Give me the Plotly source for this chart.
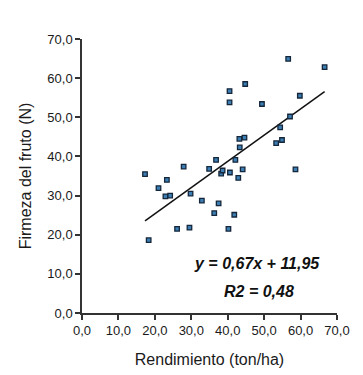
import plotly.graph_objects as go

rendimiento = [17.3, 18.3, 21.0, 22.9, 23.3, 24.2, 26.1, 27.9, 29.5, 29.8,
               32.9, 34.9, 36.3, 36.8, 37.5, 38.2, 38.6, 40.2, 40.5, 40.5,
               40.6, 41.8, 42.1, 42.9, 43.2, 43.3, 44.1, 44.6, 44.8, 49.4,
               53.3, 54.4, 54.9, 56.6, 57.1, 58.6, 59.8, 66.6]
firmeza = [35.5, 18.6, 31.9, 29.8, 34.0, 30.0, 21.5, 37.4, 21.8, 30.5,
           28.7, 36.8, 25.5, 39.1, 28.0, 35.6, 36.4, 21.5, 56.7, 53.8,
           35.9, 25.1, 39.1, 34.5, 44.5, 42.3, 36.7, 44.8, 58.5, 53.4,
           43.4, 47.4, 44.2, 64.9, 50.2, 36.7, 55.5, 62.8]
slope = 0.67
intercept = 11.95
r2 = 0.48
tick_vals = [0, 10, 20, 30, 40, 50, 60, 70]

x_line = [min(rendimiento), max(rendimiento)]
y_line = [slope * v + intercept for v in x_line]

fig = go.Figure()
fig.add_trace(go.Scatter(x=x_line, y=y_line, mode="lines",
                         line=dict(color="#111111", width=1.5),
                         showlegend=False, hoverinfo="skip"))
fig.add_trace(go.Scatter(x=rendimiento, y=firmeza, mode="markers",
                         marker=dict(symbol="square", size=4.5, color="#3b7fb4",
                                     line=dict(color="#15263a", width=1.3)),
                         showlegend=False))

eq_text = f"y = {slope:.2f}x + {intercept:.2f}".replace(".", ",")
r2_text = f"R2 = {r2:.2f}".replace(".", ",")
fig.add_annotation(x=48.0, y=12.6, xref="x", yref="y", text=f"<b><i>{eq_text}</i></b>",
                   showarrow=False, font=dict(size=16, color="#111111", family="Liberation Sans, Arial"))
fig.add_annotation(x=48.6, y=5.4, xref="x", yref="y", text=f"<b><i>{r2_text}</i></b>",
                   showarrow=False, font=dict(size=16, color="#111111", family="Liberation Sans, Arial"))

axis_common = dict(range=[0, 70], tickvals=tick_vals, tickformat=".1f",
                   showgrid=False, zeroline=False, showline=True, automargin=False,
                   linecolor="#333333", linewidth=1.5, ticks="outside",
                   ticklen=5, tickwidth=1.5, tickcolor="#333333",
                   tickfont=dict(size=13, color="#1a1a1a"),
                   title_font=dict(size=16, color="#1a1a1a"))

fig.update_xaxes(**axis_common, title_text="Rendimiento (ton/ha)", title_standoff=16)
fig.update_yaxes(**axis_common, title_text="Firmeza del fruto (N)", title_standoff=12)

fig.update_layout(width=355, height=367, separators=", ",
                  margin=dict(l=74, r=26, t=31, b=62),
                  paper_bgcolor="white", plot_bgcolor="white",
                  font=dict(family="Liberation Sans, Arial", color="#1a1a1a"))

fig.write_html("out.html")
